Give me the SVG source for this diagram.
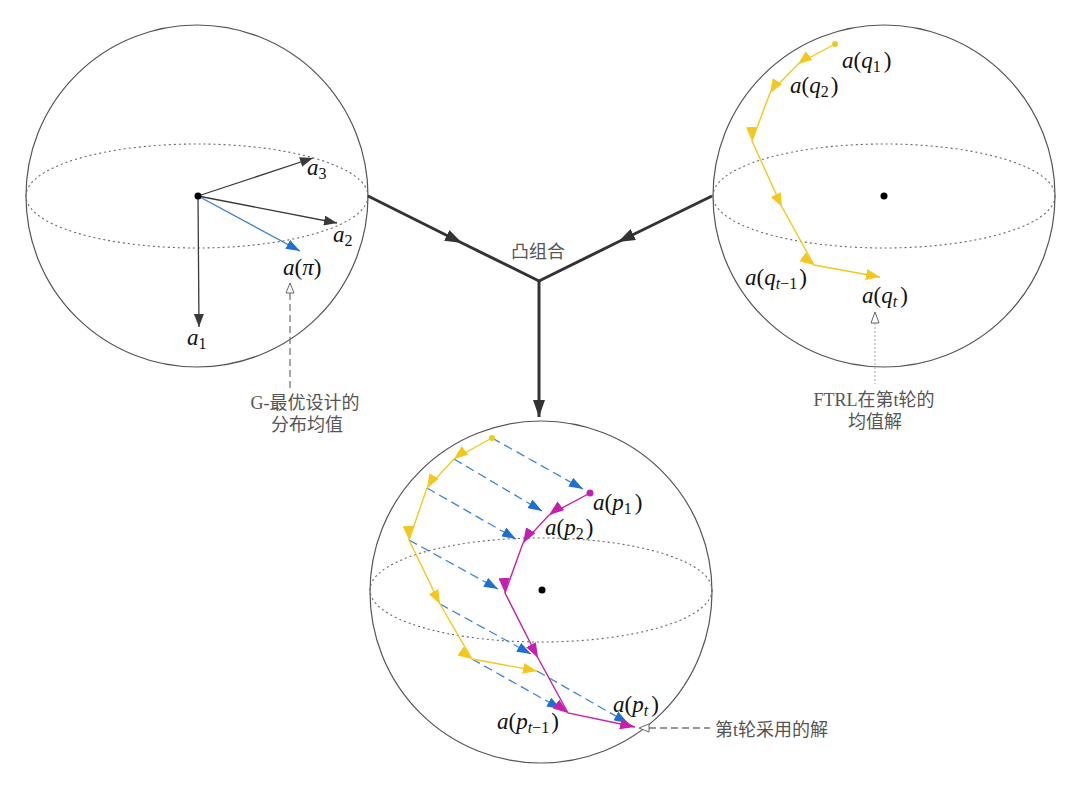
<svg xmlns="http://www.w3.org/2000/svg" width="1080" height="789" viewBox="0 0 1080 789">
<style>
.sph{fill:none;stroke:#555;stroke-width:1.2}
.eq{fill:none;stroke:#666;stroke-width:1.1;stroke-dasharray:2,3}
.dot{fill:#000}
.dark{fill:none;stroke:#3a3a3a;stroke-width:1.3}
.thick{fill:none;stroke:#333;stroke-width:3}
.yel{fill:none;stroke:#f2c81e;stroke-width:1.4}
.mag{fill:none;stroke:#c41fae;stroke-width:1.4}
.blu{fill:none;stroke:#3b86d4;stroke-width:1.3;stroke-dasharray:9,5}
.m{font-family:"Liberation Serif",serif;font-size:23px;fill:#111}
.i{font-style:italic}
.s{font-size:16px}
.cn{font-family:"Liberation Serif","Noto Sans CJK SC",serif;font-size:18px;fill:#555}
.hol{fill:#fff;stroke:#666;stroke-width:1}
</style>
<defs>
<marker id="mDark" markerUnits="userSpaceOnUse" markerWidth="14" markerHeight="10" refX="13" refY="5" orient="auto"><path d="M0,0 L13,5 L0,10 z" fill="#3a3a3a"/></marker>
<marker id="mBlue" markerUnits="userSpaceOnUse" markerWidth="15" markerHeight="10" refX="14" refY="5" orient="auto"><path d="M0,0 L14,5 L0,10 z" fill="#1f6fd0"/></marker>
<marker id="mThick" markerUnits="userSpaceOnUse" markerWidth="18" markerHeight="12" refX="17" refY="6" orient="auto"><path d="M0,0 L17,6 L0,12 z" fill="#333"/></marker>
<marker id="mYel" markerUnits="userSpaceOnUse" markerWidth="15" markerHeight="11" refX="14" refY="5.5" orient="auto"><path d="M0,0 L14,5.5 L0,11 z" fill="#f2c81e"/></marker>
<marker id="mMag" markerUnits="userSpaceOnUse" markerWidth="16" markerHeight="11" refX="15" refY="5.5" orient="auto"><path d="M0,0 L15,5.5 L0,11 z" fill="#c41fae"/></marker>
</defs>

<g id="sphere-left">
<circle class="sph" cx="197" cy="196" r="171"/>
<ellipse class="eq" cx="197" cy="196" rx="171" ry="52"/>
<path class="dark" d="M198,196 L313,158" marker-end="url(#mDark)"/>
<path class="dark" d="M198,196 L337,223" marker-end="url(#mDark)"/>
<path class="dark" d="M198,196 L199,327" marker-end="url(#mDark)"/>
<path d="M198,196 L300,251" fill="none" stroke="#3a7fc8" stroke-width="1.3" marker-end="url(#mBlue)"/>
<circle class="dot" cx="198" cy="196" r="3.5"/>
<text class="m" x="307" y="175"><tspan class="i">a</tspan><tspan class="s" dy="4">3</tspan></text>
<text class="m" x="333" y="242"><tspan class="i">a</tspan><tspan class="s" dy="4">2</tspan></text>
<text class="m" x="283" y="275"><tspan class="i">a</tspan>(<tspan class="i">π</tspan>)</text>
<text class="m" x="187" y="345"><tspan class="i">a</tspan><tspan class="s" dy="4">1</tspan></text>
</g>

<g id="sphere-right">
<circle class="sph" cx="884" cy="196" r="171"/>
<ellipse class="eq" cx="884" cy="196" rx="171" ry="52"/>
<circle class="dot" cx="884" cy="196" r="3.5"/>
<path class="yel" d="M835,44 L798,64 L770,93 L752,141 L782,207 L814,265 L880,277" marker-mid="url(#mYel)" marker-end="url(#mYel)"/>
<circle cx="835" cy="44" r="3" fill="#f2c81e"/>
<text class="m" x="842" y="68"><tspan class="i">a</tspan>(<tspan class="i">q</tspan><tspan class="s" dy="4">1</tspan><tspan dx="3" dy="-4">)</tspan></text>
<text class="m" x="790" y="93"><tspan class="i">a</tspan>(<tspan class="i">q</tspan><tspan class="s" dy="4">2</tspan><tspan dx="2" dy="-4">)</tspan></text>
<text class="m" x="745" y="285"><tspan class="i">a</tspan>(<tspan class="i">q</tspan><tspan class="s" dy="4"><tspan class="i">t</tspan>−1</tspan><tspan dx="2" dy="-4">)</tspan></text>
<text class="m" x="862" y="303"><tspan class="i">a</tspan>(<tspan class="i">q</tspan><tspan class="s i" dy="4">t</tspan><tspan dx="3" dy="-4">)</tspan></text>
</g>

<g id="sphere-bottom">
<circle class="sph" cx="541" cy="592" r="171"/>
<ellipse class="eq" cx="541" cy="590" rx="171" ry="52"/>
<circle class="dot" cx="542" cy="590" r="3.5"/>
<g id="projections">
<path class="blu" d="M492,438 L583,489" marker-end="url(#mBlue)"/>
<path class="blu" d="M454,459 L542,511" marker-end="url(#mBlue)"/>
<path class="blu" d="M427,488 L516,539" marker-end="url(#mBlue)"/>
<path class="blu" d="M409,540 L498,589" marker-end="url(#mBlue)"/>
<path class="blu" d="M440,604 L531,654" marker-end="url(#mBlue)"/>
<path class="blu" d="M472,659 L561,709" marker-end="url(#mBlue)"/>
<path class="blu" d="M537,671 L628,723" marker-end="url(#mBlue)"/>
</g>
<path class="yel" d="M492,438 L454,459 L427,488 L409,540 L440,604 L472,659 L537,671" marker-mid="url(#mYel)" marker-end="url(#mYel)"/>
<circle cx="492" cy="438" r="3" fill="#f2c81e"/>
<path class="mag" d="M590,493 L549,515 L523,543 L505,593 L538,658 L568,713 L635,727" marker-mid="url(#mMag)" marker-end="url(#mMag)"/>
<circle cx="590" cy="493" r="3.5" fill="#c41fae"/>
<text class="m" x="593" y="510"><tspan class="i">a</tspan>(<tspan class="i">p</tspan><tspan class="s" dy="4">1</tspan><tspan dx="3" dy="-4">)</tspan></text>
<text class="m" x="545" y="535"><tspan class="i">a</tspan>(<tspan class="i">p</tspan><tspan class="s" dy="4">2</tspan><tspan dx="2" dy="-4">)</tspan></text>
<text class="m" x="497" y="729"><tspan class="i">a</tspan>(<tspan class="i">p</tspan><tspan class="s" dy="4"><tspan class="i">t</tspan>−1</tspan><tspan dx="2" dy="-4">)</tspan></text>
<text class="m" x="613" y="712"><tspan class="i">a</tspan>(<tspan class="i">p</tspan><tspan class="s i" dy="4">t</tspan><tspan dx="3" dy="-4">)</tspan></text>
</g>

<g id="connectors">
<path class="thick" d="M368,196 L462,243 L539,281" marker-mid="url(#mThick)"/>
<path class="thick" d="M712,196 L618,242 L539,281" marker-mid="url(#mThick)"/>
<path class="thick" d="M539,280 L539,417" marker-end="url(#mThick)"/>
<path d="M290,293 L290,388" fill="none" stroke="#777" stroke-width="1.3" stroke-dasharray="7,4"/>
<polygon class="hol" points="290,283 286,293 294,293"/>
<path d="M875,323 L875,384" fill="none" stroke="#aaa" stroke-width="1" stroke-dasharray="2,2"/>
<polygon class="hol" points="875,312 871,323 879,323"/>
<path d="M649,728 L710,728" fill="none" stroke="#777" stroke-width="1.3" stroke-dasharray="7,4"/>
<polygon class="hol" points="639,728 649,724 649,732"/>
</g>

<g id="labels">
<text class="cn" x="538" y="258" text-anchor="middle">凸组合</text>
<text class="cn" x="305" y="409" text-anchor="middle">G-最优设计的</text>
<text class="cn" x="307" y="431" text-anchor="middle">分布均值</text>
<text class="cn" x="874" y="406" text-anchor="middle">FTRL在第t轮的</text>
<text class="cn" x="875" y="428" text-anchor="middle">均值解</text>
<text class="cn" x="715" y="736">第t轮采用的解</text>
</g>
</svg>
